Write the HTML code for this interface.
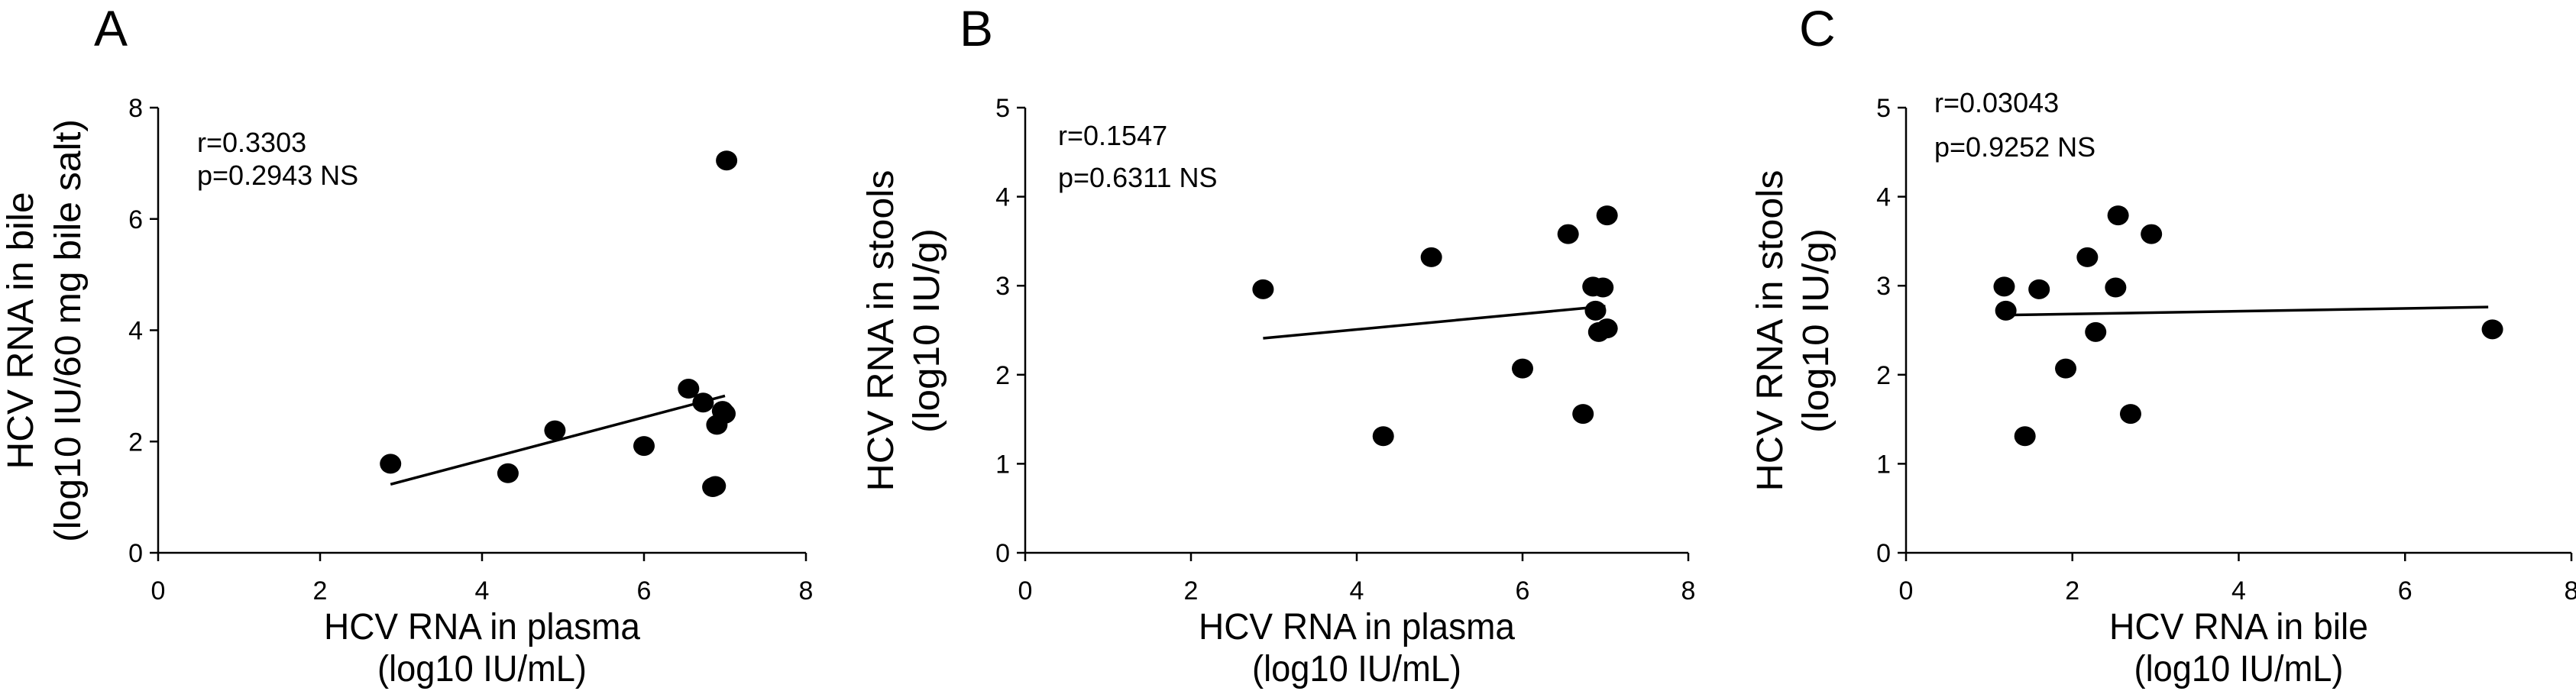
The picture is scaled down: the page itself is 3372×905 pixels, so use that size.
<!DOCTYPE html>
<html><head><meta charset="utf-8"><style>
html,body{margin:0;padding:0;background:#fff;}
svg{display:block;font-family:"Liberation Sans",Arial,sans-serif;}
</style></head><body>
<svg id="fig" width="3372" height="905" viewBox="0 0 3372 905" xmlns="http://www.w3.org/2000/svg"></svg>
<script>
// Panel A data: plasma vs bile
const aX = [2.87, 4.32, 4.9, 6.0, 6.55, 6.73, 6.9, 6.97, 7.0, 6.85, 6.88, 7.02];
const aY = [1.6, 1.43, 2.2, 1.92, 2.95, 2.7, 2.3, 2.55, 2.5, 1.18, 1.2, 7.05];
const aFit = [[2.87, 1.23], [7.0, 2.82]];
// Panel B data: plasma vs stools
const bX = [2.87, 4.32, 4.9, 6.0, 6.55, 6.73, 6.85, 6.88, 6.92, 6.97, 7.02, 7.02];
const bY = [2.96, 1.31, 3.32, 2.07, 3.58, 1.56, 2.99, 2.72, 2.48, 2.98, 2.52, 3.79];
const bFit = [[2.87, 2.41], [7.0, 2.77]];
// Panel C data: bile vs stools
const cX = [1.18, 1.2, 1.6, 1.43, 1.92, 2.18, 2.28, 2.52, 2.55, 2.7, 2.95, 7.05];
const cY = [2.99, 2.72, 2.96, 1.31, 2.07, 3.32, 2.48, 2.98, 3.79, 1.56, 3.58, 2.51];
const cFit = [[1.2, 2.67], [7.0, 2.76]];
const xTicks = [0, 2, 4, 6, 8];
const yTicksA = [0, 2, 4, 6, 8];
const yTicksBC = [0, 1, 2, 3, 4, 5];

const NS = "http://www.w3.org/2000/svg";
const svg = document.getElementById('fig');
function mk(tag, attrs, parent, text) {
  const e = document.createElementNS(NS, tag);
  for (const k in attrs) e.setAttribute(k, attrs[k]);
  if (text !== undefined) e.textContent = text;
  (parent || svg).appendChild(e);
  return e;
}

const panels = [
  {id:'a', letter:'A', lx:123, x0:207, x1:1055, yMax:8, yTicks:yTicksA, xs:aX, ys:aY, fit:aFit,
   r:'r=0.3303', p:'p=0.2943 NS', ax:258, rb:199, pb:242,
   yt1:'HCV RNA in bile', yt2:'(log10 IU/60 mg bile salt)', ytx1:43, ytx2:105, yl1:363, yl2:554,
   xt:'HCV RNA in plasma', xl:414},
  {id:'b', letter:'B', lx:1256, x0:1342, x1:2210, yMax:5, yTicks:yTicksBC, xs:bX, ys:bY, fit:bFit,
   r:'r=0.1547', p:'p=0.6311 NS', ax:1385, rb:190, pb:245,
   yt1:'HCV RNA in stools', yt2:'(log10 IU/g)', ytx1:1169, ytx2:1229, yl1:421, yl2:268,
   xt:'HCV RNA in plasma', xl:414},
  {id:'c', letter:'C', lx:2355, x0:2495, x1:3366, yMax:5, yTicks:yTicksBC, xs:cX, ys:cY, fit:cFit,
   r:'r=0.03043', p:'p=0.9252 NS', ax:2532, rb:147, pb:205,
   yt1:'HCV RNA in stools', yt2:'(log10 IU/g)', ytx1:2333, ytx2:2393, yl1:421, yl2:268,
   xt:'HCV RNA in bile', xl:339}
];
const Y0 = 724, Y1 = 141;

panels.forEach(P => {
  const g = mk('g', {});
  
  
  const sx = v => P.x0 + (P.x1 - P.x0) * v / 8;
  const sy = v => Y0 - (Y0 - Y1) * v / P.yMax;

  const lab = mk('text', {x:P.lx, y:60, 'font-size':66}, g, P.letter);
  
  

  const ya = mk('line', {x1:P.x0, y1:Y1, x2:P.x0, y2:Y0, stroke:'#000', 'stroke-width':2.5}, g);
  
  
  const xa = mk('line', {x1:P.x0, y1:Y0, x2:P.x1, y2:Y0, stroke:'#000', 'stroke-width':2.5}, g);
  
  

  P.yTicks.forEach(t => {
    mk('line', {x1:P.x0 - 11, y1:sy(t), x2:P.x0, y2:sy(t), stroke:'#000', 'stroke-width':2.5}, g);
    const tl = mk('text', {x:P.x0 - 20, y:sy(t) + 12, 'font-size':34, 'text-anchor':'end'}, g, String(t));
    
    
  });
  xTicks.forEach(t => {
    mk('line', {x1:sx(t), y1:Y0, x2:sx(t), y2:Y0 + 11, stroke:'#000', 'stroke-width':2.5}, g);
    const tl = mk('text', {x:sx(t), y:785, 'font-size':34, 'text-anchor':'middle'}, g, String(t));
    
    
  });

  const fl = mk('line', {x1:sx(P.fit[0][0]), y1:sy(P.fit[0][1]), x2:sx(P.fit[1][0]), y2:sy(P.fit[1][1]), stroke:'#000', 'stroke-width':3.5}, g);
  
  

  P.xs.forEach((xv, i) => {
    const c = mk('ellipse', {cx:sx(xv), cy:sy(P.ys[i]), rx:14, ry:13, fill:'#000'}, g);
    
    
  });

  const r = mk('text', {x:P.ax, y:P.rb, 'font-size':36}, g, P.r);
  
  
  const p = mk('text', {x:P.ax, y:P.pb, 'font-size':36}, g, P.p);
  
  

  const xc = (P.x0 + P.x1) / 2;
  const xt1 = mk('text', {x:xc, y:837, 'font-size':48, 'text-anchor':'middle', textLength:P.xl, lengthAdjust:'spacingAndGlyphs'}, g, P.xt);
  
  
  const xt2 = mk('text', {x:xc, y:892, 'font-size':48, 'text-anchor':'middle', textLength:274, lengthAdjust:'spacingAndGlyphs'}, g, '(log10 IU/mL)');
  
  

  const yc = 433;
  const y1 = mk('text', {x:0, y:0, 'font-size':48, 'text-anchor':'middle', textLength:P.yl1, lengthAdjust:'spacingAndGlyphs', transform:`translate(${P.ytx1},${yc}) rotate(-90)`}, g, P.yt1);
  
  
  const y2 = mk('text', {x:0, y:0, 'font-size':48, 'text-anchor':'middle', textLength:P.yl2, lengthAdjust:'spacingAndGlyphs', transform:`translate(${P.ytx2},${yc}) rotate(-90)`}, g, P.yt2);
  
  
});
</script>
</body></html>
